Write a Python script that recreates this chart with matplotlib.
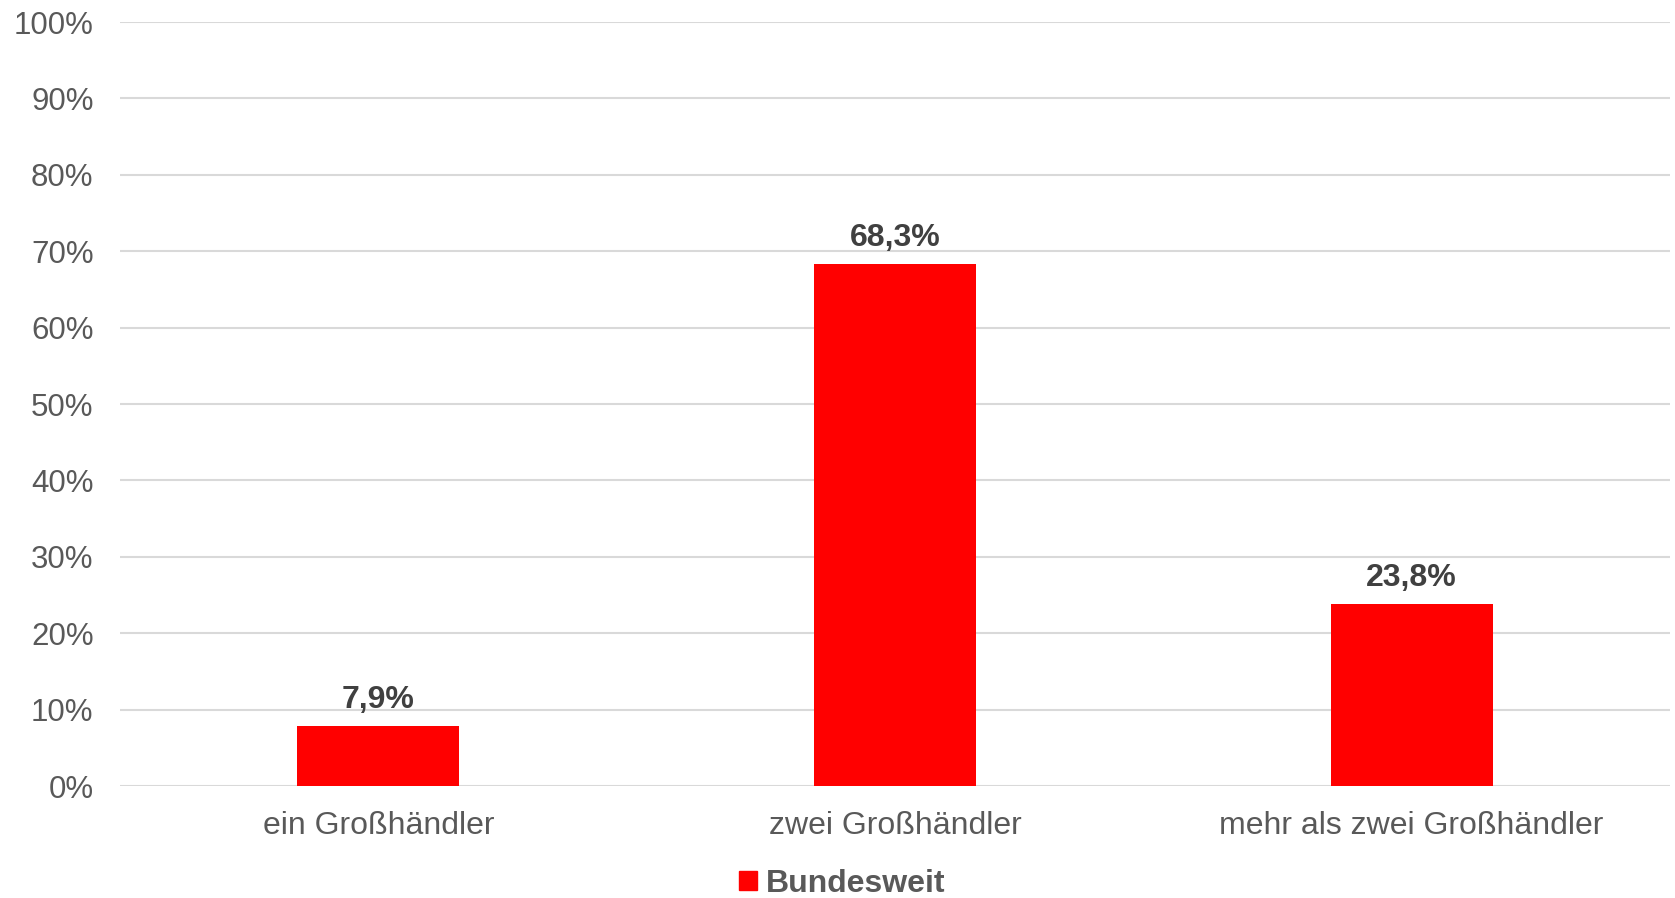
import numpy as np
import matplotlib.pyplot as plt
from matplotlib.patches import Patch

# Data
categories = ["ein Großhändler", "zwei Großhändler", "mehr als zwei Großhändler"]
values = [7.9, 68.3, 23.8]
value_labels = ["7,9%", "68,3%", "23,8%"]
series_name = "Bundesweit"

plt.rcParams['font.family'] = ['Liberation Sans', 'DejaVu Sans']

fig = plt.figure(figsize=(16.75, 8.98), dpi=100)
ax = fig.add_axes([120 / 1675, 1 - 786 / 898, 1550 / 1675, 764 / 898])

x = np.arange(len(categories))
bars = ax.bar(x, values, width=0.313, color='#ff0000', zorder=3)

# value labels above the bars
for b, lab in zip(bars, value_labels):
    ax.annotate(lab, (b.get_x() + b.get_width() / 2, b.get_height()),
                xytext=(0, 8), textcoords='offset points',
                ha='center', va='bottom', fontsize=23, fontweight='bold',
                color='#404040')

ax.set_xlim(-0.5, len(categories) - 0.5)
ax.set_ylim(0, 100)
ax.set_yticks(np.arange(0, 101, 10))
ax.set_yticklabels([f"{t}%" for t in range(0, 101, 10)])
ax.set_xticks(x)
ax.set_xticklabels(categories)

ax.tick_params(axis='y', length=0, pad=19, labelsize=22.5, labelcolor='#595959')
ax.tick_params(axis='x', length=0, pad=18, labelsize=23, labelcolor='#595959')

ax.grid(axis='y', color='#d9d9d9', linewidth=1.5, zorder=0)
for s in ax.spines.values():
    s.set_visible(False)

fig.legend(handles=[Patch(color='#ff0000', label=series_name)],
           loc='center', bbox_to_anchor=(0.503, 0.016), frameon=False,
           handlelength=0.55, handleheight=0.55, handletextpad=0.3,
           prop={'size': 23, 'weight': 'bold'}, labelcolor='#595959')

fig.savefig('out.png', dpi=100)
